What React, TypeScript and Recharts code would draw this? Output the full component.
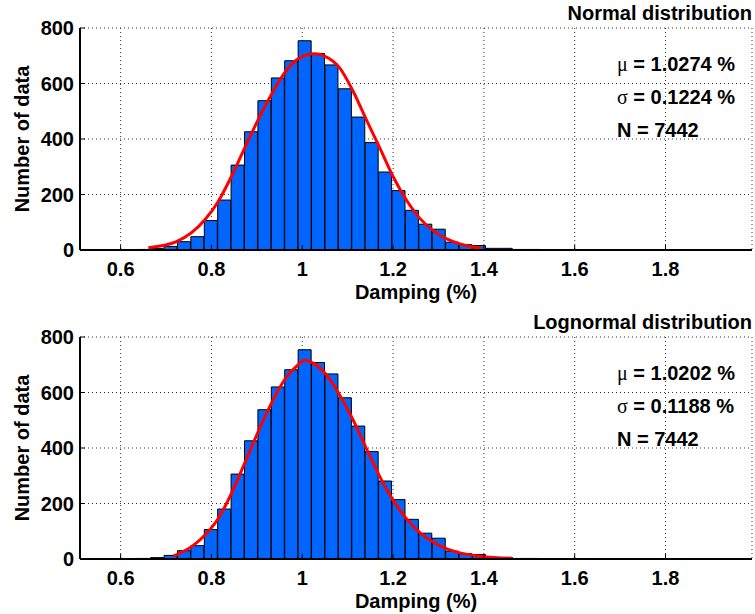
import { ComposedChart, Bar, Line, XAxis, YAxis, CartesianGrid, Label } from 'recharts'

// histogram of damping values, 50 bins over the data range (same data in both panels)
const BIN_CENTERS = [
  0.5332, 0.5627, 0.5922, 0.6218, 0.6513, 0.6808, 0.7104, 0.7399, 0.7694, 0.799,
  0.8285, 0.858, 0.8875, 0.9171, 0.9466, 0.9761, 1.0057, 1.0352, 1.0647, 1.0943,
  1.1238, 1.1533, 1.1828, 1.2124, 1.2419, 1.2714, 1.301, 1.3305, 1.36, 1.3896,
  1.4191, 1.4486, 1.4781, 1.5077, 1.5372, 1.5667, 1.5963, 1.6258, 1.6553, 1.6849, 1.7144,
]
const BIN_COUNTS = [
  1, 0, 1, 0, 2, 5, 13, 30, 48, 106,
  180, 306, 426, 538, 620, 682, 754, 708, 667, 581,
  479, 387, 281, 214, 143, 93, 75, 28, 19, 16,
  6, 6, 2, 2, 1, 0, 0, 0, 1, 1, 1,
]

// fitted curves
const NORMAL_FIT_X = [0.661, 0.723, 0.785, 0.815, 0.844, 0.873, 0.903, 0.932, 0.961, 0.991, 1.027, 1.049, 1.082, 1.112, 1.141, 1.171, 1.2, 1.229, 1.259, 1.288, 1.317, 1.347, 1.394]
const NORMAL_FIT_Y = [8, 30, 108, 175, 265, 367, 470, 560, 638, 689, 707, 699, 657, 572, 470, 367, 265, 181, 114, 70, 41, 22, 6]

const LOGNORMAL_FIT_X = [0.716, 0.76, 0.789, 0.815, 0.844, 0.873, 0.903, 0.932, 0.961, 0.991, 1.005, 1.024, 1.053, 1.082, 1.112, 1.141, 1.171, 1.2, 1.229, 1.259, 1.288, 1.317, 1.347, 1.391, 1.435, 1.464]
const LOGNORMAL_FIT_Y = [10, 49, 92, 146, 236, 345, 459, 561, 646, 700, 716, 706, 664, 592, 501, 399, 296, 212, 146, 95, 61, 37, 22, 10, 4, 2]

const X_TICKS = [0.6, 0.8, 1, 1.2, 1.4, 1.6, 1.8]
const Y_TICKS = [0, 200, 400, 600, 800]
const X_DOMAIN: [number, number] = [0.5105, 1.9905]
const Y_DOMAIN: [number, number] = [0, 800]

const FONT = "'Liberation Sans', Arial, Helvetica, sans-serif"
const SYMBOL_FONT = "'Liberation Serif', 'DejaVu Serif', serif"
const W = 755
const H = 309

const histData = BIN_CENTERS.map((x, i) => ({ x, count: BIN_COUNTS[i] }))

interface PanelProps {
  title: string
  fitX: number[]
  fitY: number[]
  mu: string
  sigma: string
  n: string
}

const tickStyle = { fill: '#000', fontSize: 20, fontWeight: 'bold', fontFamily: FONT }

function Panel({ title, fitX, fitY, mu, sigma, n }: PanelProps) {
  const fitData = fitX.map((x, i) => ({ x, y: fitY[i] }))

  return (
    <div style={{ position: 'relative', width: W, height: H }}>
      <ComposedChart
        width={W}
        height={H}
        data={histData}
        margin={{ top: 28, right: 3, bottom: 0, left: 0 }}
        barCategoryGap={0}
        barGap={0}
      >
        <CartesianGrid stroke="#333" strokeDasharray="1 3" />
        <XAxis
          dataKey="x"
          type="number"
          domain={X_DOMAIN}
          allowDataOverflow
          ticks={X_TICKS}
          height={59}
          tickSize={-5}
          tickMargin={17}
          tick={tickStyle}
          axisLine={{ stroke: '#000', strokeWidth: 2 }}
          tickLine={{ stroke: '#000' }}
        >
          <Label
            content={(props: any) => {
              const vb = props.viewBox || {}
              return (
                <text
                  x={vb.x + vb.width / 2}
                  y={vb.y + 49}
                  textAnchor="middle"
                  fontFamily={FONT}
                  fontWeight="bold"
                  fontSize={20}
                  fill="#000"
                >
                  Damping (%)
                </text>
              )
            }}
          />
        </XAxis>
        <XAxis
          xAxisId="top"
          orientation="top"
          dataKey="x"
          type="number"
          domain={X_DOMAIN}
          allowDataOverflow
          ticks={X_TICKS}
          height={0}
          tickSize={-5}
          tick={false}
          axisLine={{ stroke: '#000', strokeWidth: 1 }}
          tickLine={{ stroke: '#000' }}
        />
        <YAxis
          type="number"
          domain={Y_DOMAIN}
          allowDataOverflow
          ticks={Y_TICKS}
          width={80}
          tickSize={-5}
          tickMargin={11}
          tick={tickStyle}
          axisLine={{ stroke: '#000', strokeWidth: 2 }}
          tickLine={{ stroke: '#000' }}
        >
          <Label
            content={(props: any) => {
              const vb = props.viewBox || {}
              const cx = vb.x + 29
              const cy = vb.y + vb.height / 2
              return (
                <text
                  x={cx}
                  y={cy}
                  transform={`rotate(-90, ${cx}, ${cy})`}
                  textAnchor="middle"
                  fontFamily={FONT}
                  fontWeight="bold"
                  fontSize={20}
                  fill="#000"
                >
                  Number of data
                </text>
              )
            }}
          />
        </YAxis>
        <YAxis
          yAxisId="right"
          orientation="right"
          type="number"
          domain={Y_DOMAIN}
          allowDataOverflow
          ticks={Y_TICKS}
          width={0}
          tickSize={-5}
          tick={false}
          axisLine={{ stroke: '#000', strokeWidth: 1 }}
          tickLine={{ stroke: '#000' }}
        />
        <Bar dataKey="count" fill="#0066ff" stroke="#000" strokeWidth={1} isAnimationActive={false} />
        <Line
          data={fitData}
          xAxisId="top"
          dataKey="y"
          type="monotone"
          stroke="#ff0000"
          strokeWidth={3}
          dot={false}
          activeDot={false}
          isAnimationActive={false}
        />
      </ComposedChart>
      <svg
        width={W}
        height={H}
        style={{ position: 'absolute', left: 0, top: 0, pointerEvents: 'none' }}
      >
        <text x={752} y={19.5} textAnchor="end" fontFamily={FONT} fontWeight="bold" fontSize={20} fill="#000">
          {title}
        </text>
        <g fontFamily={FONT} fontWeight="bold" fontSize={20} fill="#000">
          <text x={617} y={71}>
            <tspan fontFamily={SYMBOL_FONT} fontWeight="normal">μ</tspan> = {mu} %
          </text>
          <text x={617} y={104}>
            <tspan fontFamily={SYMBOL_FONT} fontWeight="normal">σ</tspan> = {sigma} %
          </text>
          <text x={617} y={136.5}>N = {n}</text>
        </g>
      </svg>
    </div>
  )
}

export default function App() {
  return (
    <div style={{ position: 'absolute', left: 0, top: 0, width: W, height: 614, background: '#fff' }}>
      <Panel title="Normal distribution" fitX={NORMAL_FIT_X} fitY={NORMAL_FIT_Y} mu="1.0274" sigma="0.1224" n="7442" />
      <Panel title="Lognormal distribution" fitX={LOGNORMAL_FIT_X} fitY={LOGNORMAL_FIT_Y} mu="1.0202" sigma="0.1188" n="7442" />
    </div>
  )
}
